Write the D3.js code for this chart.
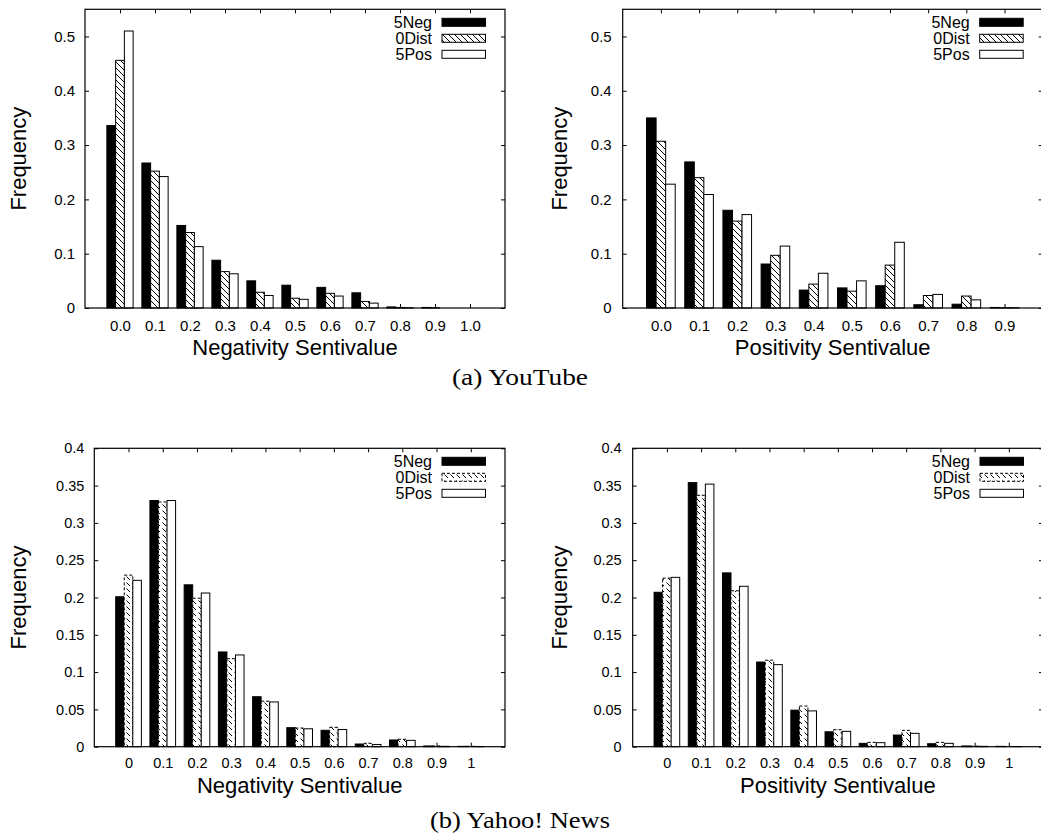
<!DOCTYPE html>
<html>
<head>
<meta charset="utf-8">
<script src="https://cdn.jsdelivr.net/npm/d3@7"></script>
<style>
  body { margin: 0; background: #fff; }
  svg text { font-family: "Liberation Sans", Arial, Helvetica, sans-serif; fill: #000; }
  .caption { font-family: "Liberation Serif", "DejaVu Serif", serif; }
</style>
</head>
<body>
<svg id="chart" width="1041" height="837"></svg>
<script>
// Series shared by every panel
const seriesNames = ["5Neg", "0Dist", "5Pos"];

// (a) YouTube — negativity
const ytNegCategories = ["0.0", "0.1", "0.2", "0.3", "0.4", "0.5", "0.6", "0.7", "0.8", "0.9", "1.0"];
const ytNeg5Neg  = [0.336, 0.267, 0.152, 0.088, 0.050, 0.042, 0.038, 0.028, 0.002, 0.001, 0.0];
const ytNeg0Dist = [0.456, 0.252, 0.139, 0.067, 0.029, 0.018, 0.027, 0.012, 0.001, 0.0005, 0.0];
const ytNeg5Pos  = [0.510, 0.242, 0.113, 0.063, 0.023, 0.016, 0.022, 0.009, 0.0005, 0.0, 0.0];

// (a) YouTube — positivity
const ytPosCategories = ["0.0", "0.1", "0.2", "0.3", "0.4", "0.5", "0.6", "0.7", "0.8", "0.9"];
const ytPos5Neg  = [0.350, 0.269, 0.180, 0.081, 0.033, 0.037, 0.041, 0.006, 0.007, 0.001];
const ytPos0Dist = [0.307, 0.240, 0.160, 0.097, 0.044, 0.031, 0.079, 0.023, 0.022, 0.0005];
const ytPos5Pos  = [0.228, 0.209, 0.172, 0.114, 0.064, 0.050, 0.121, 0.025, 0.015, 0.0005];

// (b) Yahoo! News — negativity
const yhNegCategories = ["0", "0.1", "0.2", "0.3", "0.4", "0.5", "0.6", "0.7", "0.8", "0.9", "1"];
const yhNeg5Neg  = [0.201, 0.330, 0.217, 0.127, 0.067, 0.0255, 0.022, 0.0036, 0.009, 0.001, 0.0005];
const yhNeg0Dist = [0.230, 0.328, 0.199, 0.118, 0.061, 0.025, 0.026, 0.0045, 0.010, 0.001, 0.0005];
const yhNeg5Pos  = [0.223, 0.330, 0.206, 0.123, 0.060, 0.024, 0.023, 0.003, 0.0085, 0.0005, 0.0003];

// (b) Yahoo! News — positivity
const yhPosCategories = ["0", "0.1", "0.2", "0.3", "0.4", "0.5", "0.6", "0.7", "0.8", "0.9", "1"];
const yhPos5Neg  = [0.207, 0.354, 0.233, 0.1135, 0.049, 0.020, 0.0045, 0.0156, 0.004, 0.001, 0.0005];
const yhPos0Dist = [0.226, 0.337, 0.209, 0.116, 0.0545, 0.0228, 0.0058, 0.0219, 0.0058, 0.0008, 0.0003];
const yhPos5Pos  = [0.227, 0.352, 0.215, 0.110, 0.048, 0.0206, 0.0054, 0.0179, 0.0045, 0.0005, 0.0002];

// Y tick values and their labels
const ytYTicks = [0, 0.1, 0.2, 0.3, 0.4, 0.5];
const ytYLabels = ["0", "0.1", "0.2", "0.3", "0.4", "0.5"];
const yhYTicks = [0, 0.05, 0.1, 0.15, 0.2, 0.25, 0.3, 0.35, 0.4];
const yhYLabels = ["0", "0.05", "0.1", "0.15", "0.2", "0.25", "0.3", "0.35", "0.4"];

const svg = d3.select("#chart");
const defs = svg.append("defs");

// Diagonal hatch, solid lines
const pSolid = defs.append("pattern").attr("id", "hatchSolid")
  .attr("patternUnits", "userSpaceOnUse").attr("width", 6).attr("height", 6);
pSolid.append("rect").attr("width", 6).attr("height", 6).attr("fill", "#fff");
pSolid.append("path").attr("d", "M-1,-1 L7,7 M-1,5 L1,7 M5,-1 L7,1")
  .attr("stroke", "#000").attr("stroke-width", 1);

// Diagonal hatch, broken lines
const pDash = defs.append("pattern").attr("id", "hatchDashed")
  .attr("patternUnits", "userSpaceOnUse").attr("width", 6).attr("height", 6);
pDash.append("rect").attr("width", 6).attr("height", 6).attr("fill", "#fff");
pDash.append("path").attr("d", "M0.5,0.5 L4,4")
  .attr("stroke", "#000").attr("stroke-width", 1);

function drawPanel(cfg) {
  const { left, right, top, bottom, cats, series, yMax, yTicks, yLabels,
          xTitle, hatch, dashedBorder, tickFont, legendFont, xPad, yPad } = cfg;
  const g = svg.append("g");
  const n = cfg.xUnits;
  const x = d3.scaleLinear().domain([-1, n]).range([left, right]);
  const y = d3.scaleLinear().domain([0, yMax]).range([bottom, top]);
  const idx = d3.range(cats.length);

  // Axes: inward ticks on all four sides
  const yAxisL = d3.axisLeft(y).tickValues(yTicks).tickFormat((d, i) => yLabels[i])
    .tickSize(-4).tickPadding(yPad);
  const yAxisR = d3.axisRight(y).tickValues(yTicks).tickFormat("").tickSize(-4);
  const xAxisB = d3.axisBottom(x).tickValues(idx).tickFormat(i => cats[i])
    .tickSize(-4).tickPadding(xPad);
  const xAxisT = d3.axisTop(x).tickValues(idx).tickFormat("").tickSize(-4);

  const axes = [
    g.append("g").attr("transform", `translate(${left},0)`).call(yAxisL),
    g.append("g").attr("transform", `translate(${right},0)`).call(yAxisR),
    g.append("g").attr("transform", `translate(0,${bottom})`).call(xAxisB),
    g.append("g").attr("transform", `translate(0,${top})`).call(xAxisT)
  ];
  axes.forEach(a => {
    a.select(".domain").remove();
    a.selectAll(".tick line").attr("stroke", "#000").attr("stroke-width", 1);
    a.selectAll(".tick text").style("font-size", tickFont + "px").attr("fill", "#000");
  });

  // Bars: three per category, each a quarter unit wide
  const bw = 0.25;
  const fills = ["#000", `url(#${hatch})`, "#fff"];
  series.forEach((vals, s) => {
    g.append("g").selectAll("rect").data(vals).join("rect")
      .attr("x", (d, i) => x(i - 0.375 + s * bw))
      .attr("width", x(bw) - x(0))
      .attr("y", d => y(d))
      .attr("height", d => y(0) - y(d))
      .attr("fill", fills[s])
      .attr("stroke", "#000")
      .attr("stroke-width", 1)
      .attr("stroke-dasharray", (s === 1 && dashedBorder) ? "3,2" : null);
  });

  // Frame
  g.append("rect").attr("x", left).attr("y", top)
    .attr("width", right - left).attr("height", bottom - top)
    .attr("fill", "none").attr("stroke", "#000").attr("stroke-width", 1.2);

  // Legend
  const legRows = [13, 29, 45];
  seriesNames.forEach((name, s) => {
    const cy = top + legRows[s];
    g.append("text").attr("x", right - 73).attr("y", cy)
      .attr("dy", "0.36em").attr("text-anchor", "end")
      .style("font-size", legendFont + "px").text(name);
    g.append("rect").attr("x", right - 63).attr("y", cy - 4)
      .attr("width", 43.5).attr("height", 8)
      .attr("fill", fills[s]).attr("stroke", "#000").attr("stroke-width", 1)
      .attr("stroke-dasharray", (s === 1 && dashedBorder) ? "3,2" : null);
  });

  // Axis titles
  g.append("text").attr("x", (left + right) / 2).attr("y", cfg.xTitleY)
    .attr("text-anchor", "middle").style("font-size", "22px").text(xTitle);
  g.append("text")
    .attr("transform", `translate(${cfg.yTitleX},${(top + bottom) / 2}) rotate(-90)`)
    .attr("text-anchor", "middle").attr("dy", "0.36em")
    .style("font-size", "22px").text("Frequency");
}

drawPanel({
  left: 85, right: 505, top: 9.3, bottom: 308, xUnits: 11,
  cats: ytNegCategories, series: [ytNeg5Neg, ytNeg0Dist, ytNeg5Pos],
  yMax: 0.55, yTicks: ytYTicks, yLabels: ytYLabels,
  xTitle: "Negativity Sentivalue", xTitleY: 355, yTitleX: 18,
  hatch: "hatchSolid", dashedBorder: false, tickFont: 15, legendFont: 16,
  xPad: 12, yPad: 10
});
drawPanel({
  left: 622.7, right: 1042.7, top: 9.3, bottom: 308, xUnits: 10,
  cats: ytPosCategories, series: [ytPos5Neg, ytPos0Dist, ytPos5Pos],
  yMax: 0.55, yTicks: ytYTicks, yLabels: ytYLabels,
  xTitle: "Positivity Sentivalue", xTitleY: 355, yTitleX: 559,
  hatch: "hatchSolid", dashedBorder: false, tickFont: 15, legendFont: 16,
  xPad: 12, yPad: 11
});
drawPanel({
  left: 94.3, right: 505, top: 448.3, bottom: 746.7, xUnits: 11,
  cats: yhNegCategories, series: [yhNeg5Neg, yhNeg0Dist, yhNeg5Pos],
  yMax: 0.4, yTicks: yhYTicks, yLabels: yhYLabels,
  xTitle: "Negativity Sentivalue", xTitleY: 793, yTitleX: 18,
  hatch: "hatchDashed", dashedBorder: true, tickFont: 14.5, legendFont: 16,
  xPad: 11, yPad: 10
});
drawPanel({
  left: 632.7, right: 1043, top: 448.3, bottom: 746.7, xUnits: 11,
  cats: yhPosCategories, series: [yhPos5Neg, yhPos0Dist, yhPos5Pos],
  yMax: 0.4, yTicks: yhYTicks, yLabels: yhYLabels,
  xTitle: "Positivity Sentivalue", xTitleY: 793, yTitleX: 559,
  hatch: "hatchDashed", dashedBorder: true, tickFont: 14.5, legendFont: 16,
  xPad: 11, yPad: 11
});

// Sub-figure captions
svg.append("text").attr("class", "caption").attr("x", 520).attr("y", 385)
  .attr("text-anchor", "middle").style("font-size", "23px")
  .attr("textLength", 136).attr("lengthAdjust", "spacingAndGlyphs")
  .text("(a) YouTube");
svg.append("text").attr("class", "caption").attr("x", 520).attr("y", 828)
  .attr("text-anchor", "middle").style("font-size", "23px")
  .attr("textLength", 180).attr("lengthAdjust", "spacingAndGlyphs")
  .text("(b) Yahoo! News");
</script>
</body>
</html>
